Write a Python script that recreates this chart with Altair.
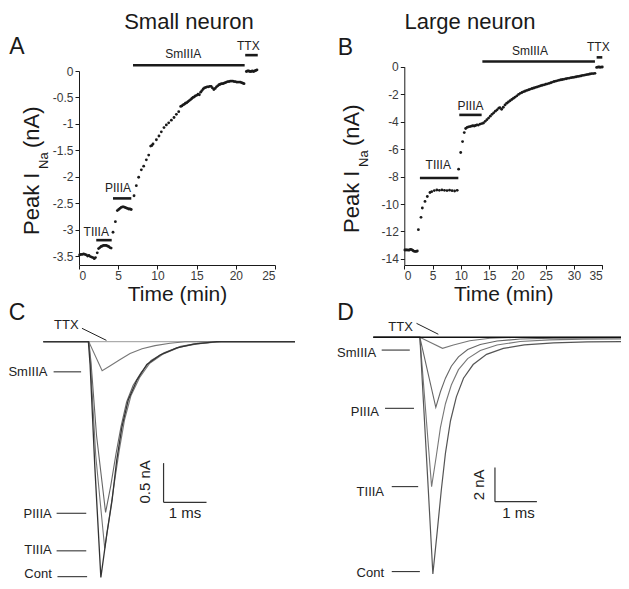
import altair as alt
import pandas as pd

FONT = "Liberation Sans"
INK = "#1a1a1a"
W, H, PT = 613, 563, 10   # drawing canvas (page minus 8px margin), top padding


def gx(page_x):
    return page_x - 8


def gy(page_y):
    return page_y - 8 - PT


# ---------------- Panel A : small neuron, peak I_Na vs time ----------------
a_time = [0.08, 0.25, 0.42, 0.59, 0.76, 0.93, 1.10, 1.27, 1.44, 1.61, 1.78, 1.95, 2.10,
          2.33,
          2.50, 2.66, 2.82, 2.98, 3.14, 3.30, 3.46, 3.62, 3.78, 3.94, 4.10,
          4.34, 4.64, 4.89,
          5.06, 5.22, 5.38, 5.54, 5.70, 5.86, 6.02, 6.18, 6.34, 6.50, 6.66,
          7.02, 7.31, 7.61, 7.95, 8.25, 8.59, 8.89, 9.14, 9.30, 9.44, 9.87, 10.2, 10.5,
          10.84, 11.14, 11.44, 11.78, 12.12, 12.42, 12.72, 12.97, 13.12, 13.27, 13.42,
          13.57, 13.74, 13.9, 14.07, 14.24, 14.39, 14.54, 14.69, 14.84, 15.01, 15.18,
          15.35, 15.52, 15.68, 15.84, 16.0, 16.17, 16.34, 16.51, 16.68, 16.85, 17.02,
          17.2, 17.37, 17.54, 17.7, 17.86, 18.02, 18.18, 18.34, 18.5, 18.66, 18.82,
          18.98, 19.14, 19.3, 19.46, 19.62, 19.78, 19.94, 20.1, 20.26, 20.42, 20.58,
          20.74, 20.9, 21.05,
          21.35, 21.5, 21.65, 21.8, 21.95, 22.1, 22.25, 22.4, 22.55, 22.7]
a_peak = [-3.48, -3.47, -3.47, -3.46, -3.47, -3.48, -3.50, -3.49, -3.51, -3.52, -3.53, -3.55, -3.53,
          -3.44,
          -3.36, -3.34, -3.32, -3.31, -3.30, -3.30, -3.30, -3.31, -3.32, -3.34, -3.35,
          -3.05, -2.85, -2.64,
          -2.62, -2.60, -2.58, -2.57, -2.57, -2.58, -2.59, -2.60, -2.61, -2.61, -2.62,
          -2.36, -2.17, -2.01, -1.87, -1.80, -1.68, -1.59, -1.42, -1.41, -1.38, -1.30, -1.23, -1.15,
          -1.07, -1.02, -0.98, -0.93, -0.88, -0.82, -0.77, -0.67, -0.66, -0.64, -0.63,
          -0.61, -0.60, -0.58, -0.56, -0.54, -0.52, -0.50, -0.49, -0.47, -0.46, -0.44,
          -0.45, -0.40, -0.37, -0.34, -0.32, -0.31, -0.30, -0.30, -0.29, -0.29, -0.32,
          -0.35, -0.33, -0.30, -0.28, -0.26, -0.25, -0.24, -0.24, -0.23, -0.22, -0.21,
          -0.20, -0.20, -0.19, -0.19, -0.19, -0.20, -0.20, -0.21, -0.21, -0.21, -0.21,
          -0.22, -0.23, -0.24,
          -0.01, 0.0, 0.0, -0.01, -0.01, 0.0, -0.01, 0.0, 0.01, 0.02]
a_drug = ["TIIIA", "PIIIA", "SmIIIA", "TTX"]
a_drug_start = [2.2, 4.34, 6.89, 21.2]
a_drug_end = [4.17, 6.67, 21.13, 22.8]
a_drug_level = [-3.2, -2.41, 0.11, 0.3]
a_label_time = [2.2, 4.97, 13.3, 21.6]
a_label_level = [-3.04, -2.21, 0.33, 0.48]
a_xticks = [0, 5, 10, 15, 20, 25]
a_yticks = [0, -0.5, -1, -1.5, -2, -2.5, -3, -3.5]

# ---------------- Panel B : large neuron ----------------
b_time = [0.1, 0.3, 0.5, 0.7, 0.9, 1.1, 1.3, 1.5, 1.7, 1.9, 2.1, 2.3,
          2.49, 2.95, 3.19, 3.66, 4.07, 4.54,
          4.84, 5.3, 5.75, 6.2, 6.65, 7.1, 7.55, 8.0, 8.45, 8.9, 9.35,
          9.6, 9.97, 10.3, 10.6, 10.85,
          11.1, 11.35, 11.6, 11.85, 12.1, 12.35, 12.6, 12.85, 13.1, 13.4,
          13.7, 14.0, 14.3, 14.6, 14.9, 15.2, 15.5, 15.8, 16.1, 16.4, 16.7, 16.9,
          17.2, 17.5, 17.8, 18.1, 18.4, 18.7, 19.0, 19.3, 19.6, 19.9, 20.2, 20.5,
          20.8, 21.1, 21.4, 21.7, 22.0, 22.3, 22.6, 22.9, 23.2, 23.5, 23.8, 24.1,
          24.4, 24.7, 25.0, 25.3, 25.6, 25.9, 26.2, 26.5, 26.8, 27.1, 27.4, 27.7,
          28.0, 28.3, 28.6, 28.9, 29.2, 29.5, 29.8, 30.1, 30.4, 30.7, 31.0, 31.3,
          31.6, 31.9, 32.2, 32.5, 32.8, 33.1, 33.4, 33.7,
          34.0, 34.2, 34.4, 34.6, 34.8, 35.0]
b_peak = [-13.35, -13.35, -13.34, -13.36, -13.35, -13.30, -13.32, -13.38, -13.43, -13.45, -13.45, -13.42,
          -11.87, -10.97, -10.29, -9.81, -9.45, -9.16,
          -9.1, -9.02, -8.98, -9.0, -8.97, -9.0, -9.02, -8.99, -9.03, -9.05, -9.0,
          -7.46, -6.25, -5.45, -4.8, -4.5,
          -4.42, -4.38, -4.36, -4.33, -4.30, -4.32, -4.28, -4.24, -4.25, -4.18,
          -4.14, -4.10, -3.98, -3.86, -3.74, -3.60, -3.47, -3.36, -3.24, -3.14, -3.02, -2.98,
          -3.10, -2.95, -2.78, -2.66, -2.57, -2.48, -2.39, -2.30, -2.21, -2.12, -2.02, -1.94,
          -1.88, -1.82, -1.77, -1.72, -1.68, -1.63, -1.59, -1.55, -1.51, -1.47, -1.43, -1.39,
          -1.35, -1.32, -1.28, -1.25, -1.21, -1.17, -1.12, -1.08, -1.05, -1.01, -0.98, -0.95,
          -0.93, -0.90, -0.88, -0.85, -0.83, -0.80, -0.78, -0.76, -0.73, -0.71, -0.69, -0.66,
          -0.63, -0.61, -0.58, -0.56, -0.53, -0.51, -0.50, -0.48,
          -0.05, -0.03, -0.02, -0.04, -0.03, -0.02]
b_drug = ["TIIIA", "PIIIA", "SmIIIA", "TTX"]
b_drug_start = [2.76, 9.72, 13.8, 34.0]
b_drug_end = [9.55, 13.67, 33.7, 35.0]
b_drug_level = [-8.11, -3.51, 0.38, 0.68]
b_label_time = [6.0, 11.7, 22.2, 34.3]
b_label_level = [-7.14, -2.86, 1.16, 1.45]
b_xticks = [0, 5, 10, 15, 20, 25, 30, 35]
b_yticks = [0, -2, -4, -6, -8, -10, -12, -14]

# ---------------- Panel C : small neuron current traces (ms, nA) ----------------
c_cont_t = [0, 1.05, 1.09, 1.2, 1.34, 1.48, 1.60, 1.71, 1.83, 1.98, 2.18, 2.41, 2.72, 3.11, 3.5, 4.04, 5.86]
c_cont_i = [0, 0, -0.3, -1.6, -3.01, -2.45, -2.03, -1.51, -1.09, -0.74, -0.49, -0.29, -0.17, -0.08, -0.03, 0, 0]
c_tiiia_t = [0, 1.06, 1.10, 1.22, 1.43, 1.55, 1.66, 1.77, 1.89, 2.04, 2.24, 2.47, 2.78, 3.17, 3.58, 4.1, 5.86]
c_tiiia_i = [0, 0, -0.28, -1.45, -2.64, -2.2, -1.78, -1.38, -1.0, -0.69, -0.46, -0.28, -0.16, -0.07, -0.03, 0, 0]
c_piiia_t = [0, 1.06, 1.11, 1.24, 1.45, 1.57, 1.69, 1.81, 1.94, 2.09, 2.28, 2.51, 2.81, 3.2, 3.6, 4.15, 5.86]
c_piiia_i = [0, 0, -0.26, -1.2, -2.18, -1.84, -1.44, -1.08, -0.77, -0.56, -0.39, -0.24, -0.14, -0.06, -0.02, 0, 0]
c_smiiia_t = [0, 1.06, 1.37, 1.55, 1.78, 2.02, 2.3, 2.6, 2.95, 3.3, 5.86]
c_smiiia_i = [0, 0, -0.37, -0.31, -0.23, -0.15, -0.09, -0.05, -0.02, 0, 0]
c_ttx_t = [0, 5.86]
c_ttx_i = [0, 0]
c_lab = ["SmIIIA", "PIIIA", "TIIIA", "Cont"]
c_lab_t1 = [0.24, 0.31, 0.31, 0.33]
c_lab_t2 = [0.88, 1.0, 1.0, 1.02]
c_lab_level = [-0.385, -2.19, -2.67, -3.0]
c_lab_text_t = [0.12, 0.22, 0.22, 0.22]
c_lab_text_level = [-0.385, -2.2, -2.66, -2.96]
c_ttx_text = [0.535, 0.21]
c_ttx_ptr = [0.9, 0.171, 1.47, 0.017]
c_bar_t1 = [2.8, 2.8]
c_bar_t2 = [2.8, 3.8]
c_bar_i1 = [-2.05, -2.05]
c_bar_i2 = [-1.55, -2.05]
c_bar_text = ["0.5 nA", "1 ms"]
c_bar_text_t = [2.37, 3.3]
c_bar_text_i = [-1.79, -2.19]

# ---------------- Panel D : large neuron current traces (ms, nA) ----------------
d_cont_t = [0, 1.11, 1.2, 1.31, 1.42, 1.52, 1.62, 1.72, 1.84, 1.98, 2.15, 2.38, 2.7, 3.1, 3.6, 4.3, 5.1, 6.0]
d_cont_i = [0, 0, -4.0, -8.9, -13.9, -11.5, -9.0, -6.8, -4.9, -3.5, -2.4, -1.6, -1.0, -0.65, -0.45, -0.33, -0.27, -0.25]
d_tiiia_t = [0, 1.11, 1.39, 1.5, 1.6, 1.72, 1.86, 2.03, 2.25, 2.55, 2.95, 3.5, 4.2, 5.0, 6.0]
d_tiiia_i = [0, 0, -8.77, -7.0, -5.3, -3.9, -2.8, -1.9, -1.25, -0.78, -0.45, -0.25, -0.15, -0.11, -0.1]
d_piiia_t = [0, 1.11, 1.49, 1.6, 1.72, 1.86, 2.03, 2.25, 2.55, 2.95, 3.5, 4.3, 6.0]
d_piiia_i = [0, 0, -4.11, -3.2, -2.4, -1.7, -1.15, -0.72, -0.42, -0.22, -0.1, -0.05, -0.04]
d_smiiia_t = [0, 1.11, 1.65, 1.91, 2.3, 2.78, 3.3, 6.0]
d_smiiia_i = [0, 0, -0.65, -0.45, -0.2, -0.06, -0.01, 0]
d_ttx_t = [0, 6.0]
d_ttx_i = [0, 0]
d_lab = ["SmIIIA", "PIIIA", "TIIIA", "Cont"]
d_lab_t1 = [0.2, 0.28, 0.44, 0.44]
d_lab_t2 = [0.87, 0.97, 1.07, 1.11]
d_lab_level = [-0.75, -4.17, -8.77, -13.76]
d_lab_text_t = [0.09, 0.16, 0.28, 0.28]
d_lab_text_level = [-0.92, -4.39, -9.08, -13.85]
d_ttx_text = [0.65, 0.63]
d_ttx_ptr = [1.03, 0.82, 1.55, 0.18]
d_bar_t1 = [2.9, 2.9]
d_bar_t2 = [2.9, 3.9]
d_bar_i1 = [-9.65, -9.65]
d_bar_i2 = [-7.65, -9.65]
d_bar_text = ["2 nA", "1 ms"]
d_bar_text_t = [2.53, 3.46]
d_bar_text_i = [-8.67, -10.34]


# ======================= helpers =======================
def lin(domain, rng):
    return alt.Scale(domain=domain, range=rng, nice=False, zero=False)


def time_panel(times, peaks, drug, d0, d1, dlev, lt, ll, xdom, ydom,
               xpix, ypix, xticks, yticks):
    sx = lin(xdom, [gx(xpix[0]), gx(xpix[1])])
    sy = lin(ydom, [gy(ypix[0]), gy(ypix[1])])
    ax_x = alt.Axis(orient="bottom", offset=gy(ypix[0]) - H, values=xticks,
                    title="Time (min)", titleFont=FONT, titleFontSize=21,
                    titleFontWeight="normal", titleColor=INK, titlePadding=2,
                    labelFont=FONT, labelFontSize=12, labelColor="#3a3a3a",
                    labelPadding=1, labelExpr="'' + datum.value",
                    tickSize=4, tickColor=INK, domainColor=INK, grid=False)
    ax_y = alt.Axis(orient="left", offset=-gx(xpix[0]), values=yticks, title="",
                    labelFont=FONT, labelFontSize=12, labelColor="#3a3a3a",
                    labelPadding=2, labelExpr="'' + datum.value",
                    tickSize=4, tickColor=INK, domainColor=INK, grid=False)

    def X(f):
        return alt.X(f, type="quantitative", scale=sx, axis=ax_x)

    def Y(f):
        return alt.Y(f, type="quantitative", scale=sy, axis=ax_y)

    pts = alt.Chart(pd.DataFrame({"t": times, "v": peaks})).mark_circle(
        size=8, color=INK, opacity=1).encode(x=X("t"), y=Y("v"))
    bars_df = pd.DataFrame({"drug": drug, "t": d0, "t2": d1, "v": dlev})
    bars = alt.Chart(bars_df).mark_rule(strokeWidth=2.6, color=INK).encode(
        x=X("t"), x2="t2", y=Y("v"))
    lab_df = pd.DataFrame({"drug": drug, "t": lt, "v": ll})
    labs = alt.Chart(lab_df).mark_text(font=FONT, fontSize=12, color="#222",
                                       baseline="middle").encode(
        x=X("t"), y=Y("v"), text="drug:N")
    return alt.layer(pts, bars, labs)


def trace_panel(traces, lab, lt1, lt2, llev, ltt, ltl, dy, ttx_text, ttx_ptr,
                bt1, bt2, bi1, bi2, btext, btt, bti, xdom, ydom, xpix, ypix):
    sx = lin(xdom, [gx(xpix[0]), gx(xpix[1])])
    sy = lin(ydom, [gy(ypix[0]), gy(ypix[1])])

    def X(f):
        return alt.X(f, type="quantitative", scale=sx, axis=None)

    def Y(f):
        return alt.Y(f, type="quantitative", scale=sy, axis=None)

    layers = []
    for name, tt, ii, col, sw in traces:
        df = pd.DataFrame({"t": tt, "i": ii, "k": list(range(len(tt)))})
        layers.append(alt.Chart(df).mark_line(color=col, strokeWidth=sw).encode(
            x=X("t"), y=Y("i"), order="k:Q"))
    ldf = pd.DataFrame({"lab": lab, "t": lt1, "t2": lt2, "i": llev})
    layers.append(alt.Chart(ldf).mark_rule(color="#222", strokeWidth=1).encode(
        x=X("t"), x2="t2", y=Y("i")))
    tdf = pd.DataFrame({"lab": lab, "t": ltt, "i": ltl})
    layers.append(alt.Chart(tdf).mark_text(font=FONT, fontSize=13, color="#222",
                                           align="right", baseline="middle",
                                           dx=-1, dy=dy).encode(
        x=X("t"), y=Y("i"), text="lab:N"))
    pdf = pd.DataFrame({"lab": ["TTX"], "t": [ttx_ptr[0]], "t2": [ttx_ptr[2]],
                        "i": [ttx_ptr[1]], "i2": [ttx_ptr[3]]})
    layers.append(alt.Chart(pdf).mark_rule(color="#222", strokeWidth=1).encode(
        x=X("t"), x2="t2", y=Y("i"), y2="i2"))
    xdf = pd.DataFrame({"lab": ["TTX"], "t": [ttx_text[0]], "i": [ttx_text[1]]})
    layers.append(alt.Chart(xdf).mark_text(font=FONT, fontSize=13, color="#222",
                                           baseline="middle").encode(
        x=X("t"), y=Y("i"), text="lab:N"))
    bdf = pd.DataFrame({"t": bt1, "t2": bt2, "i": bi1, "i2": bi2})
    layers.append(alt.Chart(bdf).mark_rule(color="#333", strokeWidth=1.2).encode(
        x=X("t"), x2="t2", y=Y("i"), y2="i2"))
    sv = pd.DataFrame({"s": [btext[0]], "t": [btt[0]], "i": [bti[0]]})
    layers.append(alt.Chart(sv).mark_text(font=FONT, fontSize=15, color="#222",
                                          angle=270, baseline="middle").encode(
        x=X("t"), y=Y("i"), text="s:N"))
    sh = pd.DataFrame({"s": [btext[1]], "t": [btt[1]], "i": [bti[1]]})
    layers.append(alt.Chart(sh).mark_text(font=FONT, fontSize=15, color="#222",
                                          baseline="middle").encode(
        x=X("t"), y=Y("i"), text="s:N"))
    return alt.layer(*layers)


def txt(s, page_x, page_y, size, align="center", angle=0):
    kw = dict(align=align, baseline="middle", font=FONT, fontSize=size, color=INK)
    if angle:
        kw["angle"] = angle
    return alt.Chart(pd.DataFrame({"s": [s]})).mark_text(**kw).encode(
        text="s:N", x=alt.value(gx(page_x)), y=alt.value(gy(page_y)))


panel_a = time_panel(a_time, a_peak, a_drug, a_drug_start, a_drug_end, a_drug_level,
                     a_label_time, a_label_level, [0, 25], [-3.67, 0],
                     [79, 275], [265, 71], a_xticks, a_yticks)
panel_b = time_panel(b_time, b_peak, b_drug, b_drug_start, b_drug_end, b_drug_level,
                     b_label_time, b_label_level, [0, 35], [-14.44, 0],
                     [404.3, 602.3], [265, 66.7], b_xticks, b_yticks)

GRAY = "#777777"
panel_c = trace_panel(
    [("TTX", c_ttx_t, c_ttx_i, "#999999", 1.0),
     ("SmIIIA", c_smiiia_t, c_smiiia_i, GRAY, 1.1),
     ("PIIIA", c_piiia_t, c_piiia_i, "#666666", 1.1),
     ("TIIIA", c_tiiia_t, c_tiiia_i, GRAY, 1.1),
     ("Cont", c_cont_t, c_cont_i, "#333333", 1.3)],
    c_lab, c_lab_t1, c_lab_t2, c_lab_level, c_lab_text_t, c_lab_text_level, 0,
    c_ttx_text, c_ttx_ptr, c_bar_t1, c_bar_t2, c_bar_i1, c_bar_i2,
    c_bar_text, c_bar_text_t, c_bar_text_i, [0, 5.86], [-3.0, 0],
    [43.3, 295], [576.7, 341.7])

panel_d = trace_panel(
    [("SmIIIA", d_smiiia_t, d_smiiia_i, GRAY, 1.1),
     ("PIIIA", d_piiia_t, d_piiia_i, "#666666", 1.1),
     ("TIIIA", d_tiiia_t, d_tiiia_i, GRAY, 1.1),
     ("Cont", d_cont_t, d_cont_i, "#555555", 1.2),
     ("TTX", d_ttx_t, d_ttx_i, "#111111", 1.5)],
    d_lab, d_lab_t1, d_lab_t2, d_lab_level, d_lab_text_t, d_lab_text_level, 0,
    d_ttx_text, d_ttx_ptr, d_bar_t1, d_bar_t2, d_bar_i1, d_bar_i2,
    d_bar_text, d_bar_text_t, d_bar_text_i, [0, 6.0], [-13.9, 0],
    [373.3, 625], [574, 337.3])

annotations = [
    txt("Small neuron", 189, 22, 22),
    txt("Large neuron", 470, 22, 22),
    txt("A", 17, 47, 23), txt("B", 345.5, 47.5, 23),
    txt("C", 17, 313, 23), txt("D", 345.5, 313, 23),
    # y titles "Peak I_Na (nA)" (rotated, reading upward)
    txt("Peak I", 31.5, 235, 22, align="left", angle=270),
    txt("Na", 44, 169, 13, align="left", angle=270),
    txt("(nA)", 31.5, 148, 22, align="left", angle=270),
    txt("Peak I", 351.5, 233, 22, align="left", angle=270),
    txt("Na", 364, 167, 13, align="left", angle=270),
    txt("(nA)", 351.5, 146, 22, align="left", angle=270),
]

chart = alt.layer(panel_a, panel_b, panel_c, panel_d, *annotations).resolve_scale(
    x="independent", y="independent").resolve_axis(
    x="independent", y="independent").properties(
    width=W, height=H,
    padding={"left": 0, "top": PT, "right": 0, "bottom": 0},
    autosize=alt.AutoSizeParams(type="none"),
    background="white").configure_view(strokeWidth=0)

chart.save("out.html", embed_options={"renderer": "svg", "actions": False})
